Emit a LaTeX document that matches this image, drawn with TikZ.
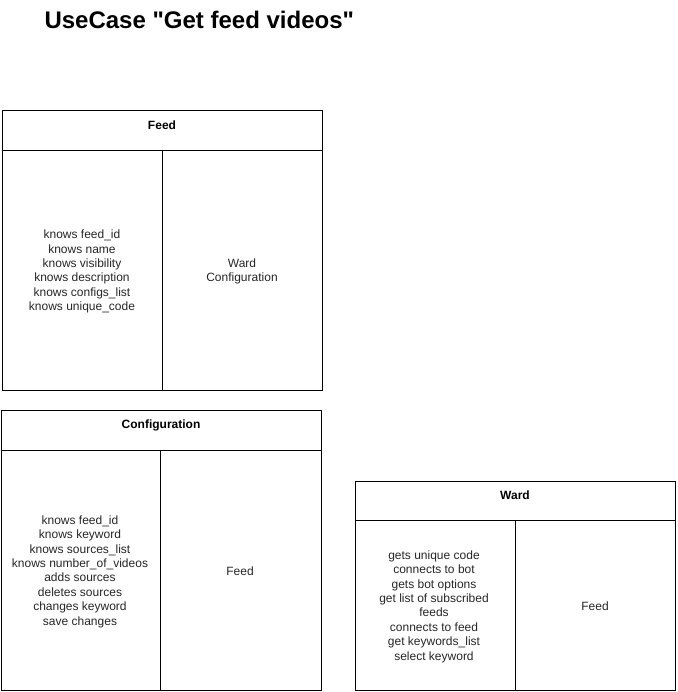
\documentclass[tikz,border=0pt]{standalone}
\usepackage{fontspec}
\setmainfont{Liberation Sans}
\newfontfamily\tfont{Liberation Sans}
\begin{document}
\begin{tikzpicture}[x=1pt,y=-1pt,
  frame/.style={draw=black,line width=0.8pt},
  hdr/.style={font=\fontsize{12}{14.4}\selectfont\bfseries,anchor=center},
  body/.style={font=\fontsize{12}{14.4}\selectfont,align=center,anchor=center,text=black!85},
  ttl/.style={font=\tfont\fontsize{24}{28}\selectfont\bfseries,anchor=west}]
\useasboundingbox (0,0) rectangle (677,692);
\node[ttl] (title) at (41,20) {UseCase "Get feed videos"};
% Feed
\draw[frame] (2,110) rectangle (322,390);
\draw[frame] (2,150) -- (322,150);
\draw[frame] (162,150) -- (162,390);
\node[hdr] (feedh) at (162,125) {Feed};
\node[body] (feedl) at (82,271.5) {knows feed\_id\\knows name\\knows visibility\\knows description\\knows configs\_list\\knows unique\_code};
\node[body] (feedr) at (242,271.5) {Ward\\Configuration};
% Configuration
\draw[frame] (1,410) rectangle (321,690);
\draw[frame] (1,450) -- (321,450);
\draw[frame] (160,450) -- (160,690);
\node[hdr] (confh) at (161,425) {Configuration};
\node[body] (confl) at (80,571.5) {knows feed\_id\\knows keyword\\knows sources\_list\\knows number\_of\_videos\\adds sources\\deletes sources\\changes keyword\\save changes};
\node[body] (confr) at (240,571.5) {Feed};
% Ward
\draw[frame] (355,481) rectangle (675,690);
\draw[frame] (355,520) -- (675,520);
\draw[frame] (515,520) -- (515,690);
\node[hdr] (wardh) at (515,495) {Ward};
\node[body] (wardl) at (434,606.5) {gets unique code\\connects to bot\\gets bot options\\get list of subscribed\\feeds\\connects to feed\\get keywords\_list\\select keyword};
\node[body] (wardr) at (595,606.5) {Feed};
\end{tikzpicture}
\end{document}
